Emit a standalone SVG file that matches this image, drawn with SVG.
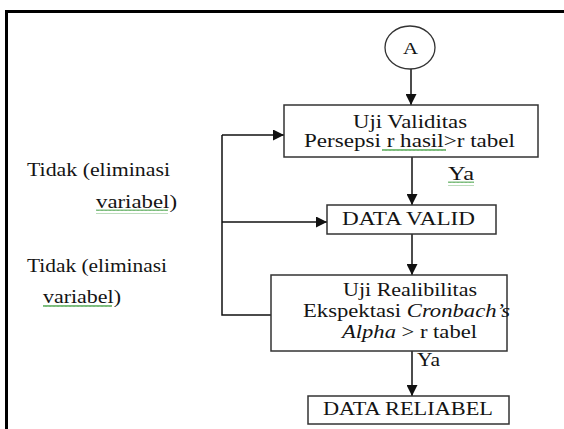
<svg xmlns="http://www.w3.org/2000/svg" width="564" height="429" viewBox="0 0 564 429">
  <style>
    .box { fill: #ffffff; stroke: #333333; stroke-width: 1.5; }
    .line { fill: none; stroke: #111111; stroke-width: 1.5; }
  </style>
  <defs>
    <marker id="arrow" viewBox="0 0 10 10" refX="10" refY="5" markerWidth="11" markerHeight="11" markerUnits="userSpaceOnUse" orient="auto">
      <path d="M0,0 L10,5 L0,10 Z" fill="#111111"/>
    </marker>
    <pattern id="wave" width="4" height="4" patternUnits="userSpaceOnUse">
      <path d="M0,3 L1,1 L2,3 L3,1 L4,3" fill="none" stroke="#3a9a3a" stroke-width="0.8"/>
    </pattern>
  </defs>

  <rect width="564" height="429" fill="#ffffff"/>
  <!-- page frame -->
  <path d="M6.5,429 V11.5 H564" fill="none" stroke="#000000" stroke-width="3"/>

  <!-- connectors -->
  <g id="connectors">
    <line class="line" x1="411" y1="69" x2="411" y2="105" marker-end="url(#arrow)"/>
    <line class="line" x1="412" y1="157" x2="412" y2="205" marker-end="url(#arrow)"/>
    <line class="line" x1="412" y1="234" x2="412" y2="275" marker-end="url(#arrow)"/>
    <line class="line" x1="412" y1="351" x2="412" y2="396" marker-end="url(#arrow)"/>
    <!-- feedback loop on the left -->
    <path class="line" d="M271,315 H222 V135"/>
    <line class="line" x1="222" y1="135" x2="284" y2="135" marker-end="url(#arrow)"/>
    <line class="line" x1="222" y1="222" x2="327" y2="222" marker-end="url(#arrow)"/>
  </g>

  <!-- labels are stretched horizontally to the wide serif face used in the flowchart -->
  <g font-family="Liberation Serif, Times New Roman, serif" font-size="18" fill="#141414">
    <!-- start connector A -->
    <g id="node-a">
      <ellipse cx="410" cy="47.5" rx="25" ry="21.5" fill="#ffffff" stroke="#333333" stroke-width="1.3"/>
      <text x="403" y="54" font-size="17" textLength="15" lengthAdjust="spacingAndGlyphs">A</text>
    </g>

    <g id="node-uji-validitas">
      <rect class="box" x="284" y="105" width="254" height="52"/>
      <text x="353" y="128" textLength="114" lengthAdjust="spacingAndGlyphs">Uji Validitas</text>
      <text x="304" y="147" textLength="211" lengthAdjust="spacingAndGlyphs">Persepsi r  hasil&gt;r tabel</text>
      <rect x="382" y="148.5" width="64" height="4" fill="url(#wave)"/>
    </g>

    <g id="label-ya-1">
      <text x="448" y="180" textLength="26" lengthAdjust="spacingAndGlyphs">Ya</text>
      <rect x="448" y="181.5" width="26" height="4" fill="url(#wave)"/>
    </g>

    <g id="node-data-valid">
      <rect class="box" x="327" y="205" width="169" height="29"/>
      <text x="342" y="225" textLength="133" lengthAdjust="spacingAndGlyphs">DATA VALID</text>
    </g>

    <g id="node-uji-realibilitas">
      <rect class="box" x="271" y="275" width="236" height="76"/>
      <text x="343" y="296" textLength="134" lengthAdjust="spacingAndGlyphs">Uji Realibilitas</text>
      <text x="303" y="317" textLength="207" lengthAdjust="spacingAndGlyphs">Ekspektasi <tspan font-style="italic">Cronbach’s</tspan></text>
      <text x="342" y="338" textLength="135" lengthAdjust="spacingAndGlyphs"><tspan font-style="italic">Alpha</tspan> &gt; r tabel</text>
    </g>

    <g id="label-ya-2">
      <text x="417" y="366" textLength="23" lengthAdjust="spacingAndGlyphs">Ya</text>
    </g>

    <g id="node-data-reliabel">
      <rect class="box" x="308" y="396" width="201" height="28"/>
      <text x="323" y="415" textLength="170" lengthAdjust="spacingAndGlyphs">DATA RELIABEL</text>
    </g>

    <g id="label-tidak-1">
      <text x="27" y="176" textLength="143" lengthAdjust="spacingAndGlyphs">Tidak (eliminasi</text>
      <text x="96" y="208" textLength="81" lengthAdjust="spacingAndGlyphs">variabel)</text>
      <rect x="96" y="209.5" width="72" height="4" fill="url(#wave)"/>
    </g>

    <g id="label-tidak-2">
      <text x="27" y="272" textLength="140" lengthAdjust="spacingAndGlyphs">Tidak (eliminasi</text>
      <text x="43" y="303" textLength="78" lengthAdjust="spacingAndGlyphs">variabel)</text>
      <rect x="43" y="304.5" width="69" height="4" fill="url(#wave)"/>
    </g>
  </g>
</svg>
